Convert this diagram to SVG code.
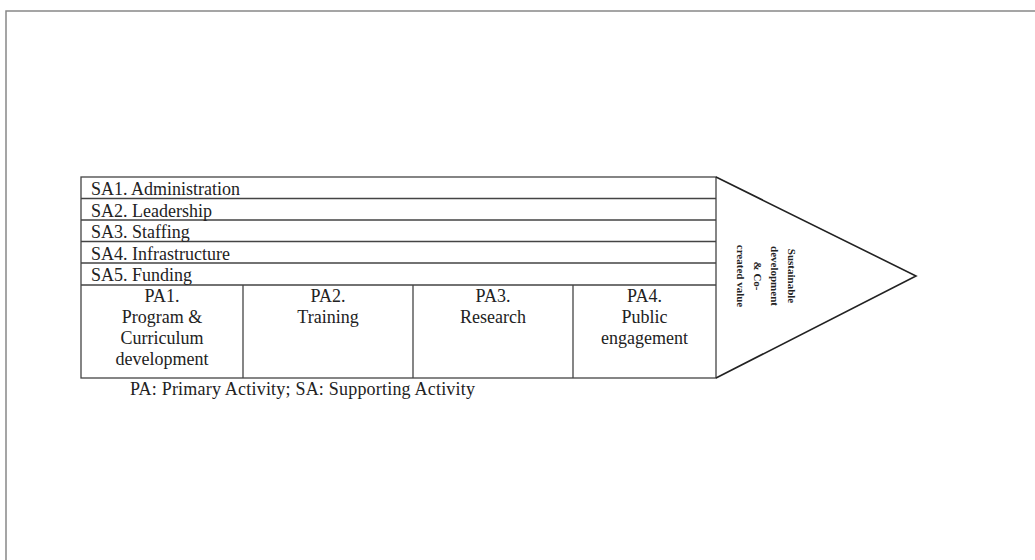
<svg xmlns="http://www.w3.org/2000/svg" width="1035" height="560" viewBox="0 0 1035 560">
<style>
.t{font-family:"Liberation Serif","Times New Roman",serif;font-size:18px;fill:#222}
.c{text-anchor:middle}
.b{font-family:"Liberation Serif","Times New Roman",serif;font-size:11px;font-weight:bold;fill:#222;text-anchor:middle}
.ln{stroke:#444;stroke-width:1.3;fill:none}
</style>
<rect width="1035" height="560" fill="#fff"/>
<path d="M6,560 V11 H1035" stroke="#888" stroke-width="1.5" fill="none"/>
<g id="connectors"/>
<g id="supporting">
<rect class="ln" x="81" y="177" width="635" height="201"/>
<path class="ln" d="M81,198.5H716M81,220H716M81,241.5H716M81,263H716M81,285H716"/>
<text class="t" x="91" y="195">SA1. Administration</text>
<text class="t" x="91" y="216.5">SA2. Leadership</text>
<text class="t" x="91" y="238">SA3. Staffing</text>
<text class="t" x="91" y="259.5">SA4. Infrastructure</text>
<text class="t" x="91" y="281">SA5. Funding</text>
</g>
<g id="pa1">
<path class="ln" d="M243,285V378"/>
<text class="t c" x="162" y="302">PA1.<tspan x="162" dy="21">Program &amp;</tspan><tspan x="162" dy="21">Curriculum</tspan><tspan x="162" dy="21">development</tspan></text>
</g>
<g id="pa2">
<path class="ln" d="M413,285V378"/>
<text class="t c" x="328" y="302">PA2.<tspan x="328" dy="21">Training</tspan></text>
</g>
<g id="pa3">
<path class="ln" d="M573,285V378"/>
<text class="t c" x="493" y="302">PA3.<tspan x="493" dy="21">Research</tspan></text>
</g>
<g id="pa4">
<text class="t c" x="644.5" y="302">PA4.<tspan x="644.5" dy="21">Public</tspan><tspan x="644.5" dy="21">engagement</tspan></text>
</g>
<g id="value">
<path d="M716,177 L916,276 L716,378" stroke="#222" stroke-width="1.6" fill="none"/>
<text class="b" transform="translate(766,276) rotate(90)"><tspan x="0" y="-21.5">Sustainable</tspan><tspan x="0" y="-4.8">development</tspan><tspan x="0" y="11.9">&amp; Co-</tspan><tspan x="0" y="28.6">created value</tspan></text>
</g>
<g id="note">
<text class="t" x="130" y="395" textLength="345">PA: Primary Activity; SA: Supporting Activity</text>
</g>
</svg>
